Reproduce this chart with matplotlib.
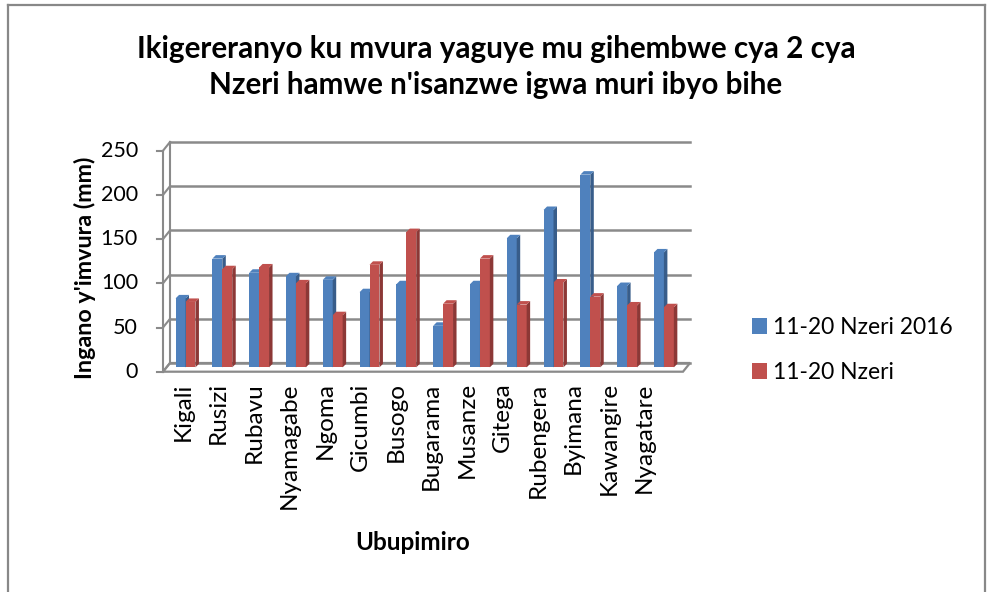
import matplotlib
matplotlib.use("Agg")
import matplotlib.pyplot as plt
from matplotlib.patches import Patch
from matplotlib.collections import PolyCollection
import numpy as np

plt.rcParams['font.family'] = ['Lato', 'DejaVu Sans']

# data
stations = ["Kigali", "Rusizi", "Rubavu", "Nyamagabe", "Ngoma", "Gicumbi", "Busogo",
            "Bugarama", "Musanze", "Gitega", "Rubengera", "Byimana", "Kawangire", "Nyagatare"]
rain_2016 = [78, 123, 107, 103, 99, 85, 94, 47, 94, 146, 178, 218, 92, 130]
rain_normal = [74, 111, 113, 95, 59, 116, 153, 72, 123, 71, 96, 80, 70, 68]
series_names = ["11-20 Nzeri 2016", "11-20 Nzeri"]
yticks = [0, 50, 100, 150, 200, 250]

title = "Ikigereranyo ku mvura yaguye mu gihembwe cya 2 cya\nNzeri hamwe n'isanzwe igwa muri ibyo bihe"
ylabel = "Ingano y'imvura (mm)"
xlabel = "Ubupimiro"

blue, blue_dark = "#4F81BD", "#385D8A"
red, red_dark = "#C0504D", "#8C3836"
grid_col = "#8A8A8A"

W, H = 988, 592
fig = plt.figure(figsize=(W / 100, H / 100), dpi=100)

# front plane of the 3d box in pixels
x_left, x_right = 163, 683
y_zero, y_top = 371.7, 150.7
cat_px = 36.8
first_center = 185.5
unit_px = (y_zero - y_top) / 250

ax = fig.add_axes([x_left / W, (H - y_zero) / H, (x_right - x_left) / W, (y_zero - y_top) / H])
xmin = -(first_center - x_left) / cat_px
xmax = (x_right - first_center) / cat_px
ax.set_xlim(xmin, xmax)
ax.set_ylim(0, 250)
ax.axis('off')

# depth offsets (data units)
ddx, ddy = 7 / cat_px, 8.7 / unit_px          # full depth of the box
bdx, bdy = 3.5 / cat_px, 3.5 / unit_px        # depth of a bar
base = ddy / 2                                # bars stand mid-depth

# floor
floor = plt.Polygon([(xmin, 0), (xmax, 0), (xmax + ddx, ddy), (xmin + ddx, ddy)],
                    closed=True, facecolor="white", edgecolor=grid_col, lw=1.6,
                    clip_on=False, zorder=1)
ax.add_patch(floor)

# back wall gridlines, left wall diagonals and ticks
for t in yticks:
    ax.plot([xmin + ddx, xmax + ddx], [t + ddy, t + ddy], color=grid_col, lw=1.8,
            clip_on=False, zorder=1)
    ax.plot([xmin, xmin + ddx], [t, t + ddy], color=grid_col, lw=1.5, clip_on=False, zorder=1)
    ax.plot([xmin - 6 / cat_px, xmin], [t, t], color=grid_col, lw=1.5, clip_on=False, zorder=1)
    ax.text(xmin - 25 / cat_px, t, str(t), ha='right', va='center', fontsize=15.5)
ax.plot([xmin, xmin], [0, 250], color=grid_col, lw=1.5, clip_on=False, zorder=1)
ax.plot([xmin + ddx, xmin + ddx], [ddy, 250 + ddy], color=grid_col, lw=1.5, clip_on=False, zorder=1)

idx = np.arange(len(stations))
w = 0.27


def bars3d(xs, vals, front, dark, z):
    ax.bar(xs, vals, width=w, bottom=base, align='edge', color=front, zorder=z, lw=0)
    sides, tops = [], []
    for x, v in zip(xs, vals):
        top = base + v
        xr = x + w
        sides.append([(xr, base), (xr + bdx, base + bdy), (xr + bdx, top + bdy), (xr, top)])
        tops.append([(x, top), (x + bdx, top + bdy), (xr + bdx, top + bdy), (xr, top)])
    ax.add_collection(PolyCollection(sides, facecolors=dark, edgecolors='none', zorder=z))
    ax.add_collection(PolyCollection(tops, facecolors=front, edgecolors='none', zorder=z))


bars3d(idx - w, rain_2016, blue, blue_dark, 3)
bars3d(idx, rain_normal, red, red_dark, 4)

# category labels (the front edge is a little narrower than the bar row)
for i, name in enumerate(stations):
    ax.text(-0.07 + 0.965 * i, -12, name, rotation=90, ha='center', va='top', fontsize=17.5)

fig.text(496 / W, 1 - 67 / H, title, ha='center', va='center', fontsize=21.3,
         fontweight='bold', linespacing=1.38)
fig.text(85 / W, 1 - 268 / H, ylabel, rotation=90, ha='center', va='center',
         fontsize=16.8, fontweight='bold')
fig.text(413 / W, 1 - 543 / H, xlabel, ha='center', va='center', fontsize=17.5,
         fontweight='bold')

handles = [Patch(facecolor=blue), Patch(facecolor=red)]
fig.legend(handles, series_names, loc='center left', bbox_to_anchor=(731 / W, 1 - 350 / H),
           frameon=False, fontsize=16.5, handlelength=0.65, handleheight=0.65,
           handletextpad=0.3, labelspacing=1.05)

# chart border
for xs, ys in [([8, 985], [5, 5]), ([8, 8], [5, 592]), ([985, 985], [5, 592])]:
    fig.add_artist(plt.Line2D([x / W for x in xs], [1 - y / H for y in ys],
                              color="#888888", lw=1.6))

fig.savefig("out.png", dpi=100)
